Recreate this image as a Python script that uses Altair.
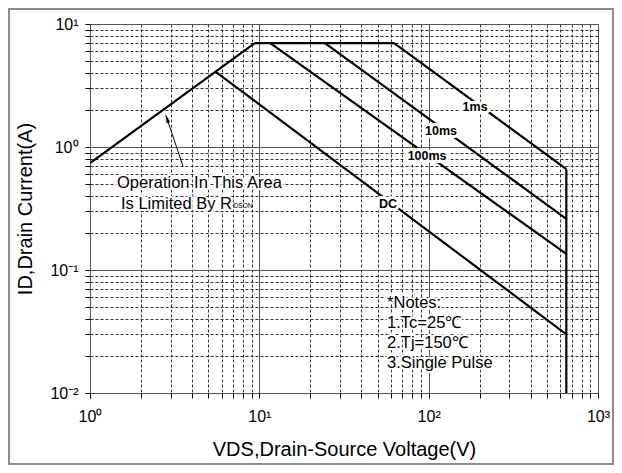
import altair as alt
import pandas as pd

# ---- SOA boundary segments (VDS in V, ID in A) ----
rdson_vds = [1.0, 9.4]
rdson_id = [0.74, 7.0]
flat_vds = [9.4, 62.5]
flat_id = [7.0, 7.0]
ms1_vds = [62.5, 650.0]
ms1_id = [7.0, 0.66]
ms10_vds = [24.4, 650.0]
ms10_id = [7.0, 0.26]
ms100_vds = [11.6, 650.0]
ms100_id = [7.0, 0.135]
dc_vds = [5.55, 650.0]
dc_id = [4.07, 0.030]
vmax_vds = [650.0, 650.0]
vmax_id = [0.66, 0.01]

# curve labels
curve_labels = ["1ms", "10ms", "100ms", "DC"]
curve_label_vds = [188.0, 118.4, 97.9, 57.5]
curve_label_id = [2.11, 1.35, 0.845, 0.344]

# notes
note_lines = ["*Notes:", "1.Tc=25\u2103", "2.Tj=150\u2103", "3.Single Pulse"]
note_vds = [56.8, 56.8, 56.8, 56.8]
note_id = [0.0539, 0.0371, 0.0255, 0.01754]

# RDSON annotation
ann_lines = ["Operation In This Area", "Is Limited By R"]
ann_vds = [1.444, 1.524]
ann_id = [0.509, 0.344]
sub_text = ["DSON"]
sub_vds = [7.05]
sub_id = [0.333]
arrow_tail = (3.54, 0.70)
arrow_head = (2.85, 1.70)

x_ticks = [m * 10 ** e for e in range(0, 3) for m in range(1, 10)] + [1000]
y_ticks = [round(m * 10.0 ** e, 6) for e in range(-2, 1) for m in range(1, 10)] + [10.0]

segs = {
    "rdson": (rdson_vds, rdson_id),
    "flat": (flat_vds, flat_id),
    "1ms": (ms1_vds, ms1_id),
    "10ms": (ms10_vds, ms10_id),
    "100ms": (ms100_vds, ms100_id),
    "dc": (dc_vds, dc_id),
    "vmax": (vmax_vds, vmax_id),
}
rows = []
for name, (vs, cs) in segs.items():
    for i, (v, c) in enumerate(zip(vs, cs)):
        rows.append({"seg": name, "ord": i, "vds": v, "id": c})
lines_df = pd.DataFrame(rows)

lab_df = pd.DataFrame({"t": curve_labels, "vds": curve_label_vds, "id": curve_label_id})
note_df = pd.DataFrame({"t": note_lines, "vds": note_vds, "id": note_id})
ann_df = pd.DataFrame({"t": ann_lines, "vds": ann_vds, "id": ann_id})
sub_df = pd.DataFrame({"t": sub_text, "vds": sub_vds, "id": sub_id})
arrow_df = pd.DataFrame({"vds": [arrow_tail[0]], "id": [arrow_tail[1]],
                         "vds2": [arrow_head[0]], "id2": [arrow_head[1]]})
head_df = pd.DataFrame({"vds": [arrow_head[0]], "id": [arrow_head[1]]})

FONT = "Liberation Sans"

x_major = "indexof([1,10,100,1000], datum.value) >= 0"
y_major = "indexof([0.01,0.1,1,10], datum.value) >= 0"

xaxis = alt.Axis(
    values=x_ticks,
    title="VDS,Drain-Source Voltage(V)",
    labelExpr="datum.value==1?'10\u2070':datum.value==10?'10\u00b9':datum.value==100?'10\u00b2':datum.value==1000?'10\u00b3':''",
    grid=True,
    gridDash={"condition": {"test": x_major, "value": []}, "value": [3, 2]},
    gridColor={"condition": {"test": x_major, "value": "#555555"}, "value": "#333333"},
    gridWidth=1,
    domain=False,
    tickSize=5,
    tickColor="black",
    labelPadding=10,
    labelOverlap=False,
    labelFlush=False,
    labelFont=FONT,
    labelFontSize=16,
    labelColor="black",
    titleFont=FONT,
    titleFontSize=20,
    titleFontWeight="normal",
    titleColor="black",
    titlePadding=15,
)
yaxis = alt.Axis(
    values=y_ticks,
    title="ID,Drain Current(A)",
    labelExpr="datum.value==10?'10\u00b9':datum.value==1?'10\u2070':datum.value==0.1?'10\u207b\u00b9':datum.value==0.01?'10\u207b\u00b2':''",
    grid=True,
    gridDash={"condition": {"test": y_major, "value": []}, "value": [3, 2]},
    gridColor={"condition": {"test": y_major, "value": "#555555"}, "value": "#333333"},
    gridWidth=1,
    domain=False,
    tickSize=5,
    tickColor="black",
    labelPadding=7,
    labelOverlap=False,
    labelFlush=False,
    labelFont=FONT,
    labelFontSize=16,
    labelColor="black",
    titleFont=FONT,
    titleFontSize=20,
    titleFontWeight="normal",
    titleColor="black",
    titlePadding=14,
)
xs = alt.Scale(type="log", domain=[1, 1000], nice=False)
ys = alt.Scale(type="log", domain=[0.01, 10], nice=False)
X = alt.X("vds:Q", scale=xs, axis=xaxis)
Y = alt.Y("id:Q", scale=ys, axis=yaxis)

W, H = 508, 369
PL, PT, PR, PB = 82, 16, 16, 72

border = alt.Chart(pd.DataFrame({"a": [0]})).mark_rect(
    fill=None, stroke="#8c8c8c", strokeWidth=2
).encode(
    x=alt.value(-PL + 1), x2=alt.value(W + PR - 1),
    y=alt.value(-PT + 1), y2=alt.value(H + PB - 1),
)

lines = alt.Chart(lines_df).mark_line(color="black", strokeWidth=2.2, clip=True).encode(
    x=X, y=Y, detail="seg:N", order="ord:Q"
)

def halo_text(df, size, weight="normal", align="left", halo=5):
    base = alt.Chart(df)
    h = base.mark_text(font=FONT, fontSize=size, fontWeight=weight, align=align,
                       baseline="middle", stroke="white", strokeWidth=halo,
                       strokeJoin="round", fill="white").encode(x=X, y=Y, text="t:N")
    t = base.mark_text(font=FONT, fontSize=size, fontWeight=weight, align=align,
                       baseline="middle", color="black").encode(x=X, y=Y, text="t:N")
    return h, t

lab_h, lab_t = halo_text(lab_df, 12.5, "bold", "center", 6)
note_h, note_t = halo_text(note_df, 16.5, "normal", "left", 4)
ann_h, ann_t = halo_text(ann_df, 16.5, "normal", "left", 4)
sub_t = alt.Chart(sub_df).mark_text(font=FONT, fontSize=6.5, align="left",
                                    baseline="middle", color="black").encode(x=X, y=Y, text="t:N")

arrow = alt.Chart(arrow_df).mark_rule(color="black", strokeWidth=1).encode(
    x=X, y=Y, x2="vds2:Q", y2="id2:Q"
)
head = alt.Chart(head_df).mark_point(
    shape="M0,-1L-0.35,0.8L0.35,0.8Z", filled=True, color="black", opacity=1,
    size=110, angle=341
).encode(x=X, y=Y)

chart = alt.layer(
    border, lines, arrow, head, ann_h, ann_t, sub_t, note_h, note_t, lab_h, lab_t
).properties(
    width=W, height=H,
    autosize=alt.AutoSizeParams(type="none"),
    padding={"left": PL, "top": PT, "right": PR, "bottom": PB},
).configure_view(
    stroke="black", strokeWidth=2
).configure(background="white")

chart.save("out.html", embed_options={"renderer": "svg", "actions": False})
